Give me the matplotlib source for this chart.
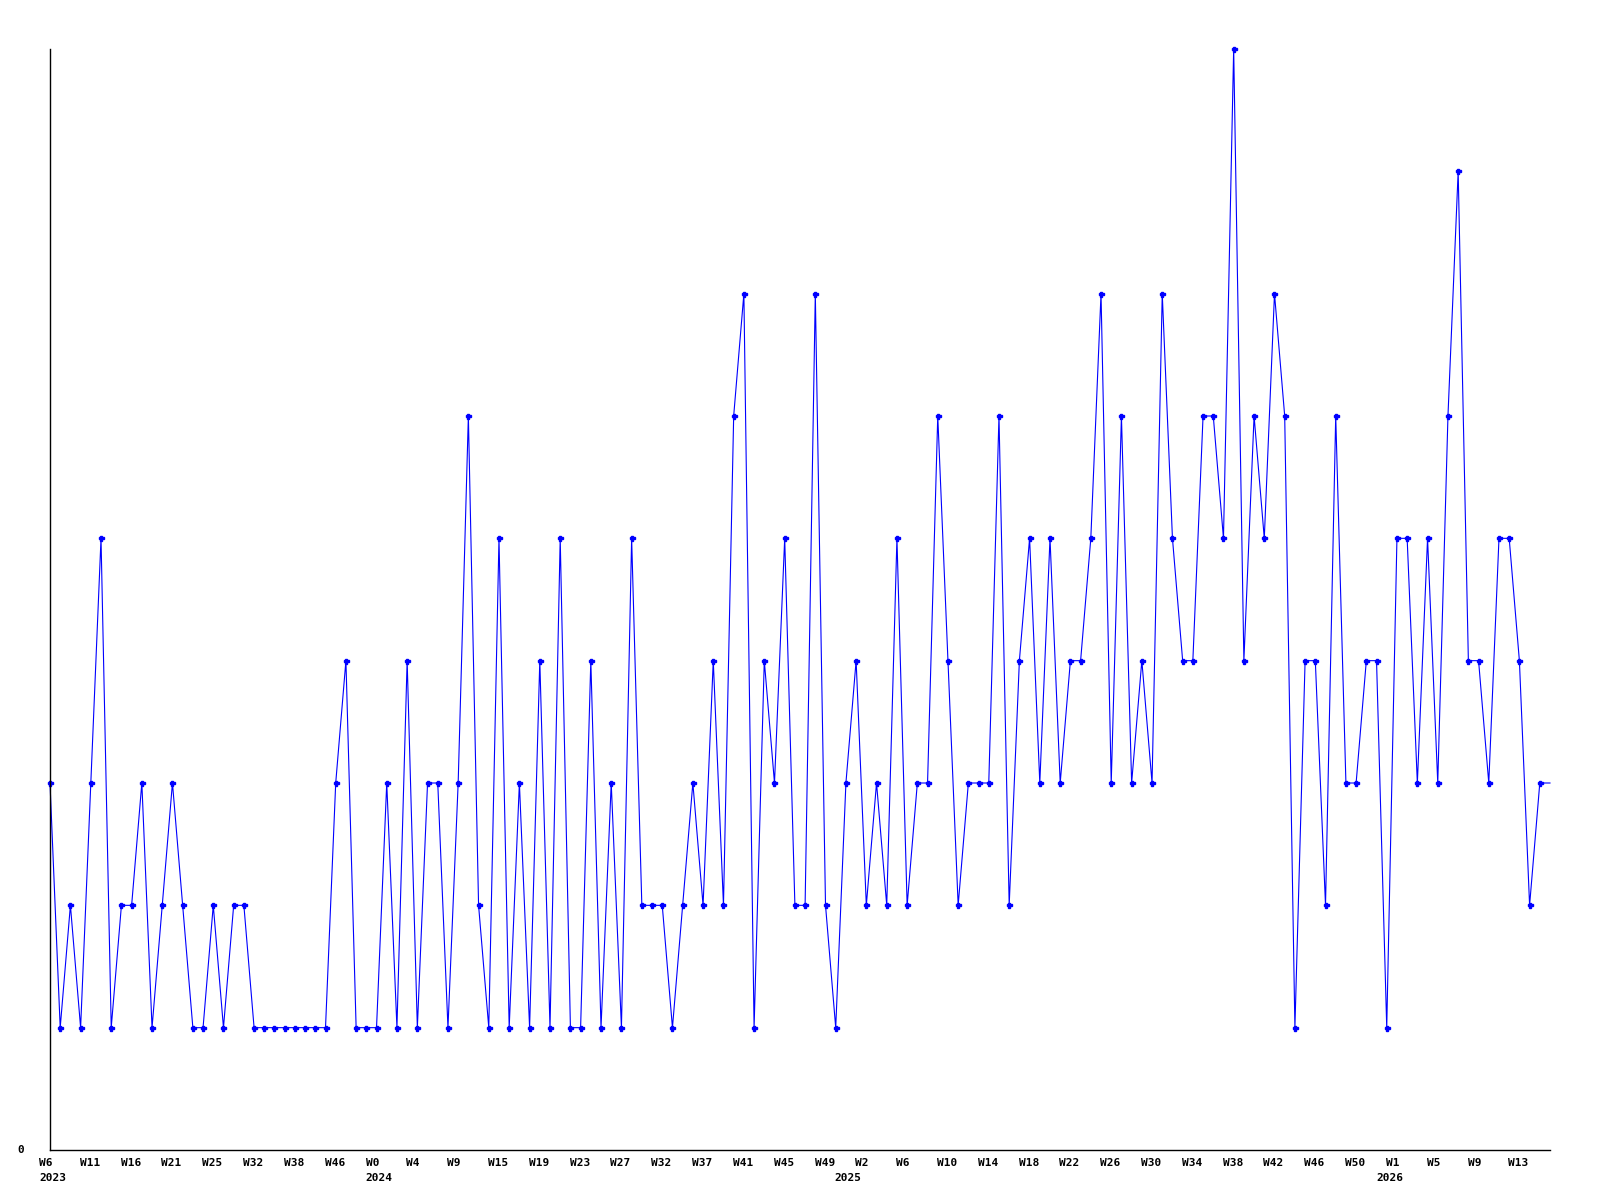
import matplotlib
matplotlib.use('Agg')
import matplotlib.pyplot as plt
import matplotlib.transforms as mtransforms

counts = [3, 1, 2, 1, 3, 5, 1, 2, 2, 3, 1, 2, 3, 2, 1, 1, 2, 1, 2, 2,
          1, 1, 1, 1, 1, 1, 1, 1, 3, 4, 1, 1, 1, 3, 1, 4, 1, 3, 3, 1,
          3, 6, 2, 1, 5, 1, 3, 1, 4, 1, 5, 1, 1, 4, 1, 3, 1, 5, 2, 2,
          2, 1, 2, 3, 2, 4, 2, 6, 7, 1, 4, 3, 5, 2, 2, 7, 2, 1, 3, 4,
          2, 3, 2, 5, 2, 3, 3, 6, 4, 2, 3, 3, 3, 6, 2, 4, 5, 3, 5, 3,
          4, 4, 5, 7, 3, 6, 3, 4, 3, 7, 5, 4, 4, 6, 6, 5, 9, 4, 6, 5,
          7, 6, 1, 4, 4, 2, 6, 3, 3, 4, 4, 1, 5, 5, 3, 5, 3, 6, 8, 4,
          4, 3, 5, 5, 4, 2, 3, 3]

week_labels = ['W6', 'W11', 'W16', 'W21', 'W25', 'W32', 'W38', 'W46',
               'W0', 'W4', 'W9', 'W15', 'W19', 'W23', 'W27', 'W32',
               'W37', 'W41', 'W45', 'W49', 'W2', 'W6', 'W10', 'W14',
               'W18', 'W22', 'W26', 'W30', 'W34', 'W38', 'W42', 'W46',
               'W50', 'W1', 'W5', 'W9', 'W13']
# year text: (tick number it sits under, label)
years = [(0, '2023'), (8, '2024'), (20, '2025'), (33, '2026')]
year_shift = {'2023': 0, '2024': 0, '2025': -21, '2026': -10}  # pixels
tick_step = 4

n = len(counts)
x = list(range(n))

fig = plt.figure(figsize=(16, 12), dpi=100)
ax = fig.add_axes([50 / 1600, 50 / 1200, 1500 / 1600, 1101 / 1200])

# last value is drawn as a line only, no marker
ax.plot(x, counts, color='#0000ff', lw=0.8, marker='P', ms=3.6,
        markevery=list(range(n - 1)), clip_on=False)

ax.set_xlim(0, n - 1)
ax.set_ylim(0, 9)
for side in ['top', 'right']:
    ax.spines[side].set_visible(False)
for side in ['left', 'bottom']:
    ax.spines[side].set_color('black')
    ax.spines[side].set_linewidth(1.0)
ax.set_xticks([])
ax.set_yticks([])

font = dict(family='DejaVu Sans Mono', fontweight='bold', fontsize=8)

# "0" at the origin
ax.text(-26 / 10.2, 0, '0', ha='right', va='center', **font)

trans_w = mtransforms.offset_copy(ax.get_xaxis_transform(), fig=fig,
                                  x=-11, y=-13, units='dots')
for k, lab in enumerate(week_labels):
    ax.text(k * tick_step, 0, lab, ha='left', va='center', transform=trans_w,
            clip_on=False, **font)

for k, yr in years:
    trans_y = mtransforms.offset_copy(ax.get_xaxis_transform(), fig=fig,
                                      x=-11 + year_shift[yr], y=-28,
                                      units='dots')
    ax.text(k * tick_step, 0, yr, ha='left', va='center',
            transform=trans_y, clip_on=False, **font)

fig.savefig('out.png', dpi=100)
